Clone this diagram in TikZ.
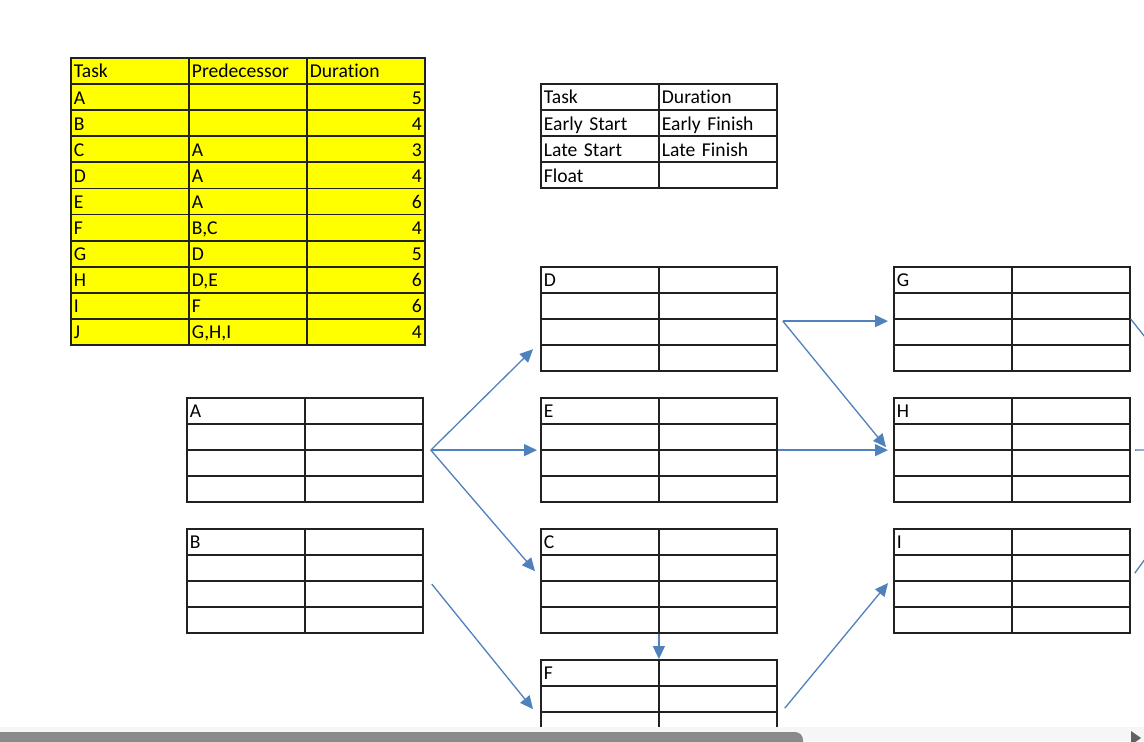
\documentclass[tikz,border=0pt]{standalone}
\usepackage{fontspec}
\setmainfont[Ligatures=NoCommon]{Carlito}
\usepackage{tikz}
\usetikzlibrary{matrix,arrows.meta}

\begin{document}
\begin{tikzpicture}[x=0.5pt,y=-0.5pt,
  tcell/.style={draw=cbox,line width=0.9pt,outer sep=0pt,inner xsep=1.5pt,inner ysep=0pt,minimum height=13.05pt,text height=8pt,text depth=1pt,text width=56pt,align=left,font=\fontsize{9.8}{11}\selectfont},
  tbl/.style={matrix of nodes,nodes in empty cells,anchor=north west,inner sep=0pt,outer sep=0pt,column sep=-0.9pt,row sep=-0.9pt,nodes={tcell}},
  dep/.style={draw=cedge,line width=0.65pt,-{Triangle[length=6.5pt,width=6pt]}}]
\definecolor{cbox}{rgb}{0.13,0.13,0.13}
\definecolor{cyel}{rgb}{1.0,1.0,0.0}
\definecolor{cedge}{rgb}{0.31,0.506,0.741}
\definecolor{csbg}{rgb}{0.965,0.965,0.965}
\definecolor{csbar}{rgb}{0.54,0.54,0.54}
\definecolor{csarr}{rgb}{0.38,0.38,0.38}
%
\useasboundingbox (0,0) rectangle (1144,741);
\clip (0,0) rectangle (1144,741);
\fill[white] (0,0) rectangle (1144,741);
%
\matrix (tasks) [tbl,nodes={fill=cyel},column 3/.style={nodes={align=right}},row 1 column 3/.style={nodes={align=left}}] at (70,57) {
Task & Predecessor & Duration \\
A &  & 5 \\
B &  & 4 \\
C & A & 3 \\
D & A & 4 \\
E & A & 6 \\
F & B,C & 4 \\
G & D & 5 \\
H & D,E & 6 \\
I & F & 6 \\
J & G,H,I & 4 \\
};
\matrix (legend) [tbl] at (540,83) {
Task & Duration \\
Early Start & Early Finish \\
Late Start & Late Finish \\
Float & \\
};
%
\matrix (A) [tbl] at (186,397) {A & \\ & \\ & \\ & \\};
\matrix (B) [tbl] at (186,528) {B & \\ & \\ & \\ & \\};
\matrix (D) [tbl] at (540,266) {D & \\ & \\ & \\ & \\};
\matrix (E) [tbl] at (540,397) {E & \\ & \\ & \\ & \\};
\matrix (C) [tbl] at (540,528) {C & \\ & \\ & \\ & \\};
\matrix (F) [tbl] at (540,659) {F & \\ & \\ & \\ & \\};
\matrix (G) [tbl] at (893,266) {G & \\ & \\ & \\ & \\};
\matrix (H) [tbl] at (893,397) {H & \\ & \\ & \\ & \\};
\matrix (I) [tbl] at (893,528) {I & \\ & \\ & \\ & \\};
\coordinate (J) at (1240,449);
%
\draw[dep] ([shift={(7,0)}]A.east) -- ([shift={(-7,-23)}]D.south west);
\draw[dep] ([shift={(7,0)}]A.east) -- ([shift={(-3,0)}]E.west);
\draw[dep] ([shift={(7,0)}]A.east) -- ([shift={(-5,-10)}]C.west);
\draw[dep] ([shift={(8,3)}]B.east) -- ([shift={(-7,-3)}]F.west);
\draw[dep] (C.south) -- (F.north);
\draw[dep] ([shift={(5,2)}]D.east) -- ([shift={(-5,2)}]G.west);
\draw[dep] ([shift={(5,2)}]D.east) -- ([shift={(-7,-3)}]H.west);
\draw[dep] (E.east) -- ([shift={(-5,0)}]H.west);
\draw[dep] ([shift={(7,-4)}]F.east) -- ([shift={(-5,2)}]I.west);
\draw[dep] (G.east) -- ([shift={(0,8)}]J);
\draw[dep] ([shift={(4,0)}]H.east) -- (J);
\draw[dep] ([shift={(4,-8)}]I.east) -- ([shift={(0,-20)}]J);
%
\fill[csbg] (0,727) rectangle (1144,741);
\fill[csbar,rounded corners=4] (-10,732) rectangle (803,752);
\fill[csarr] (1131,731) -- (1141,738) -- (1131,745) -- cycle;
%
\end{tikzpicture}
\end{document}
